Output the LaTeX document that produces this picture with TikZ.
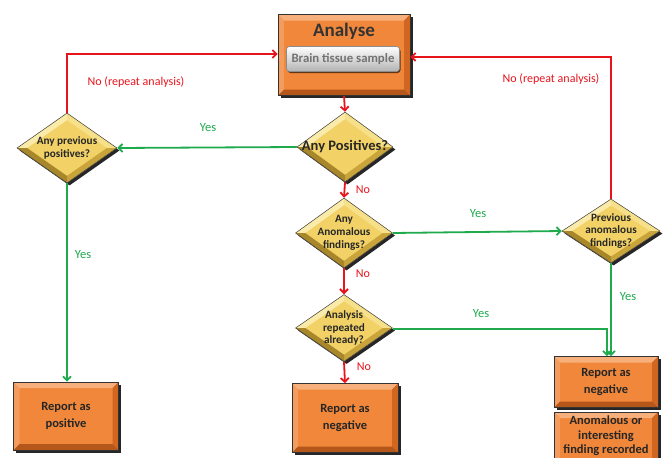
\documentclass[tikz,border=0pt]{standalone}
\usepackage{fontspec}
\setmainfont{Carlito}
\usetikzlibrary{arrows.meta,shapes.geometric,shadows,calc}
\definecolor{orface}{HTML}{F0873A}
\definecolor{orlight}{HTML}{F7B07C}
\definecolor{orlight2}{HTML}{F49C5E}
\definecolor{ordark}{HTML}{D0661F}
\definecolor{ordark2}{HTML}{B5561A}
\definecolor{yface}{HTML}{F2D267}
\definecolor{ylight}{HTML}{FBEBAA}
\definecolor{ylight2}{HTML}{F7E08A}
\definecolor{ydark}{HTML}{C9A43A}
\definecolor{ydark2}{HTML}{A8862A}
\definecolor{redline}{HTML}{E8141C}
\definecolor{greenline}{HTML}{1FAA4E}
\newcommand\boxbevel[1]{%
  \fill[orlight] (path picture bounding box.north west) -- (path picture bounding box.north east)
    -- ([shift={(-#1,-#1)}]path picture bounding box.north east) -- ([shift={(#1,-#1)}]path picture bounding box.north west) -- cycle;
  \fill[orlight2] (path picture bounding box.north west) -- (path picture bounding box.south west)
    -- ([shift={(#1,#1)}]path picture bounding box.south west) -- ([shift={(#1,-#1)}]path picture bounding box.north west) -- cycle;
  \fill[ordark] (path picture bounding box.north east) -- (path picture bounding box.south east)
    -- ([shift={(-#1,#1)}]path picture bounding box.south east) -- ([shift={(-#1,-#1)}]path picture bounding box.north east) -- cycle;
  \fill[ordark2] (path picture bounding box.south west) -- (path picture bounding box.south east)
    -- ([shift={(-#1,#1)}]path picture bounding box.south east) -- ([shift={(#1,#1)}]path picture bounding box.south west) -- cycle;
}
\newcommand\diabevel{%
  \coordinate (dN) at (path picture bounding box.north);
  \coordinate (dS) at (path picture bounding box.south);
  \coordinate (dE) at (path picture bounding box.east);
  \coordinate (dW) at (path picture bounding box.west);
  \coordinate (dC) at (path picture bounding box.center);
  \coordinate (iN) at ($(dC)!0.8!(dN)$);
  \coordinate (iS) at ($(dC)!0.8!(dS)$);
  \coordinate (iE) at ($(dC)!0.8!(dE)$);
  \coordinate (iW) at ($(dC)!0.8!(dW)$);
  \fill[ylight] (dW) -- (dN) -- (iN) -- (iW) -- cycle;
  \fill[ylight2] (dN) -- (dE) -- (iE) -- (iN) -- cycle;
  \fill[ydark] (dE) -- (dS) -- (iS) -- (iE) -- cycle;
  \fill[ydark2] (dS) -- (dW) -- (iW) -- (iS) -- cycle;
}
\tikzset{
  obox/.style={rectangle, fill=orface, draw=black!80, line width=0.6pt, inner sep=0pt,
    drop shadow={shadow xshift=2.5pt, shadow yshift=-2.5pt, opacity=0.85, fill=black},
    path picture={\boxbevel{6pt}}, align=center, text=black!85,
    font=\bfseries\fontsize{12.5}{17}\selectfont},
  dia/.style={diamond, fill=yface, draw=black!75, line width=0.5pt, inner sep=0pt,
    drop shadow={shadow xshift=2.5pt, shadow yshift=-2.5pt, opacity=0.85, fill=black},
    path picture={\diabevel}},
  dtext/.style={align=center, text=black!85, inner sep=0pt,
    font=\bfseries\fontsize{11.2}{12.8}\selectfont},
  rarrow/.style={draw=redline, line width=1.8pt, -{Straight Barb[length=4pt,width=8pt]}},
  garrow/.style={draw=greenline, line width=1.8pt, -{Straight Barb[length=4pt,width=8pt]}},
  rlab/.style={text=redline, font=\fontsize{12}{14}\selectfont, inner sep=0pt},
  glab/.style={text=greenline, font=\fontsize{12.5}{14}\selectfont, inner sep=0pt},
}
\begin{document}
\begin{tikzpicture}[x=1pt, y=-1pt]
\clip (0,0) rectangle (667,458);
\fill[white] (0,0) rectangle (667,458);

% Analyse box
\node[obox, minimum width=132pt, minimum height=81pt] (analyse) at (344,55) {};
\node[text=black!80, font=\bfseries\fontsize{19}{22}\selectfont, inner sep=0pt] (analysetitle) at (344,31) {Analyse};
\node[rectangle, rounded corners=3pt, top color=white, bottom color=black!30, draw=black!45,
  line width=0.6pt, minimum width=113pt, minimum height=25pt, inner sep=0pt,
  drop shadow={shadow xshift=1pt, shadow yshift=-1.5pt, opacity=0.6, fill=black},
  text=black!55, font=\bfseries\fontsize{12.8}{14}\selectfont] (brain) at (343,59) {Brain tissue sample};

% Diamonds
\node[dia, minimum width=96pt, minimum height=70pt, label={[dtext, font=\bfseries\fontsize{14.5}{16}\selectfont]center:Any Positives?}] (pos) at (345,147) {};
\node[dia, minimum width=97pt, minimum height=70pt, label={[dtext]center:Any\\Anomalous\\findings?}] (anom) at (344,233) {};
\node[dia, minimum width=97pt, minimum height=67pt, label={[dtext]center:Analysis\\repeated\\already?}] (rep) at (344,328) {};
\node[dia, minimum width=100pt, minimum height=70pt, label={[dtext]center:Any previous\\positives?}] (prevpos) at (67,148) {};
\node[dia, minimum width=98pt, minimum height=64pt, label={[dtext]center:Previous\\anomalous\\findings?}] (prevanom) at (611,231) {};

% Result boxes
\node[obox, minimum width=105pt, minimum height=68pt] (reppos) at (66,416) {Report as\\positive};
\node[obox, minimum width=106pt, minimum height=69pt] (repneg) at (345,418) {Report as\\negative};
\node[obox, minimum width=104pt, minimum height=51pt] (repneg2) at (606,382) {Report as\\negative};
\node[obox, minimum width=104pt, minimum height=56pt] (anomrec) at (606,440) {};
\node[text=black!85, align=center, inner sep=0pt, font=\bfseries\fontsize{12.5}{14.5}\selectfont] (anomrectext) at (606,436) {Anomalous or\\interesting\\finding recorded};

% Red connectors
\draw[rarrow] (analyse.south) -- (pos.north);
\draw[rarrow] (pos.south) -- (anom.north);
\draw[rarrow] (anom.south) -- (rep.north);
\draw[rarrow] (rep.south) -- (repneg.north);
\draw[rarrow] (prevpos.north) |- ([yshift=1pt]analyse.west);
\draw[rarrow] (prevanom.north) |- ([yshift=-2pt]analyse.east);

% Green connectors
\draw[garrow] (pos.west) -- (prevpos.east);
\draw[garrow] (prevpos.south) -- (prevpos.south |- reppos.north);
\draw[garrow] (anom.east) -- (prevanom.west);
\draw[garrow] (prevanom.south) -- (prevanom.south |- repneg2.north);
\draw[garrow] ([yshift=-1pt]rep.east) -| ([xshift=-4pt]prevanom.south |- repneg2.north);

% Labels
\node[rlab] (no1) at (363,190) {No};
\node[rlab] (no2) at (363,274) {No};
\node[rlab] (no3) at (364,367) {No};
\node[rlab] (norep1) at (136,82) {No (repeat analysis)};
\node[rlab] (norep2) at (551,79) {No (repeat analysis)};
\node[glab] (yes1) at (208,128) {Yes};
\node[glab] (yes2) at (83,255) {Yes};
\node[glab] (yes3) at (478,214) {Yes};
\node[glab] (yes4) at (628,297) {Yes};
\node[glab] (yes5) at (481,314) {Yes};
\end{tikzpicture}
\end{document}
